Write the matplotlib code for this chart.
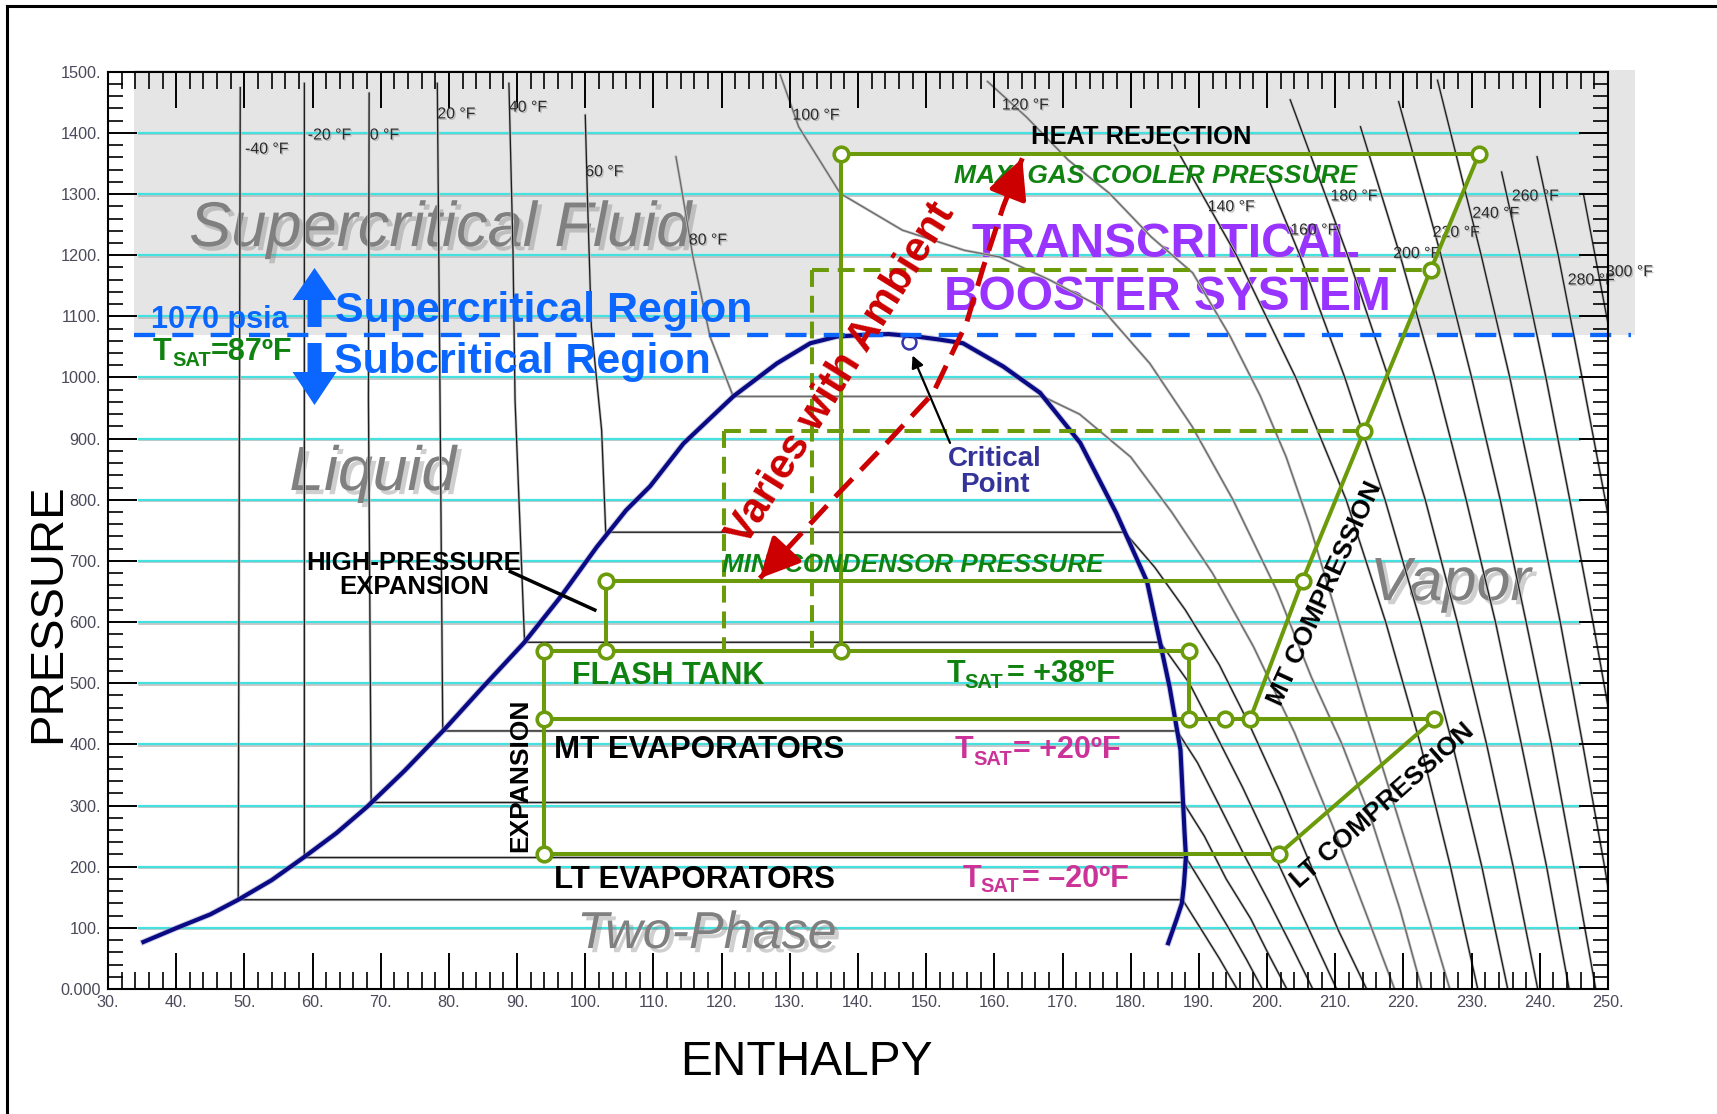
import matplotlib
matplotlib.use('Agg')
import matplotlib.pyplot as plt
import matplotlib.patheffects as pe
from matplotlib import font_manager
from matplotlib.lines import Line2D
from matplotlib.patches import Polygon, Rectangle
from matplotlib.ticker import MultipleLocator

# ---------------- axis data ----------------
x_ticks = list(range(30, 251, 10))
x_tick_labels = [f'{v}.' for v in x_ticks]
y_ticks = list(range(0, 1501, 100))
y_tick_labels = ['0.000'] + [f'{v}.' for v in y_ticks[1:]]
grid_p = list(range(100, 1401, 100))

# ---------------- saturation dome (enthalpy, psia) ----------------
dome_h = [35.2, 40.1, 45.0, 49.1, 54.0, 58.8, 63.5, 68.0, 73.5, 79.3, 85.0, 91.0, 96.5,
          101.7, 106.0, 109.5, 114.4, 121.7, 128.1, 133.0, 136.9, 141.3, 144.5, 148.6,
          152.0, 155.4, 161.3, 166.7, 172.6, 177.9, 182.4, 185.7, 187.3, 187.9, 188.1,
          187.8, 187.5, 186.7, 185.5]
dome_p = [77, 100, 122, 146, 178, 216, 255, 298, 357, 424, 494, 566, 643, 723, 783, 822,
          892, 969, 1023, 1056, 1067, 1070, 1071, 1067, 1062, 1056, 1018, 975, 893, 778,
          666, 494, 391, 255, 216, 170, 140, 113, 75]
crit_h, crit_p = 147.5, 1058
crit_line_p = 1070

# ---------------- isotherms (enthalpy, psia) ----------------
iso_m40 = [(49.4, 1474), (49.1, 146), (187.6, 146), (190.2, 100), (193.0, 50), (195.6, 0)]
iso_m20 = [(58.8, 1481), (58.8, 215), (188.1, 215), (191.4, 155), (194.6, 95), (197.0, 48),
           (199.3, 0)]
iso_0 = [(68.3, 1465), (68.2, 963), (68.6, 305), (187.7, 305), (190.8, 250), (194.0, 180),
         (197.6, 115), (200.3, 55), (202.9, 0)]
iso_20 = [(78.3, 1481), (78.7, 963), (79.1, 422), (186.8, 422), (189.8, 370), (193.0, 300),
          (196.6, 220), (200.4, 140), (203.6, 70), (206.7, 0)]
iso_40 = [(88.8, 1481), (89.4, 1208), (89.7, 963), (91.1, 567), (184.3, 567), (188.6, 500),
          (192.3, 420), (196.4, 330), (200.6, 230), (205.0, 125), (210.2, 0)]
iso_60 = [(100.0, 1429), (100.3, 1301), (100.9, 1083), (102.4, 914), (103.0, 747),
          (179.1, 747), (183.5, 690), (188.0, 620), (193.0, 530), (197.5, 430), (202.0, 320),
          (206.5, 200), (210.5, 95), (214.6, 0)]
iso_80 = [(113.3, 1361), (113.9, 1323), (115.8, 1197), (118.3, 1067), (121.7, 969),
          (167.1, 969), (172.5, 940), (180.0, 870), (186.0, 780), (192.0, 680), (198.0, 560),
          (204.0, 420), (209.5, 270), (214.3, 130), (218.7, 0)]
iso_100 = [(128.6, 1495), (131.3, 1410), (137.4, 1301), (146.5, 1241), (155.6, 1208),
           (160.8, 1197), (168.2, 1159), (175.5, 1116), (182.8, 1023), (189.0, 920),
           (195.0, 800), (201.5, 650), (206.5, 510), (211.0, 400), (215.5, 270),
           (219.5, 130), (222.7, 0)]
iso_120 = [(159.0, 1484), (164.7, 1426), (170.8, 1356), (176.9, 1301), (183.0, 1230),
           (189.1, 1171), (194.6, 1067), (199.0, 970), (202.8, 870), (206.2, 760),
           (210.0, 620), (214.5, 450), (219.5, 270), (223.6, 120), (226.8, 0)]
iso_140 = [(186.4, 1380), (195.5, 1200), (204.2, 1000), (211.6, 800), (217.4, 600),
           (222.5, 400), (226.9, 200), (230.9, 0)]
iso_160 = [(200.0, 1330), (204.8, 1200), (211.4, 1000), (217.3, 800), (222.5, 600),
           (227.2, 400), (231.5, 200), (235.3, 0)]
iso_180 = [(203.4, 1454), (211.8, 1200), (217.8, 1000), (223.2, 800), (227.9, 600),
           (232.2, 400), (236.1, 200), (239.7, 0)]
iso_200 = [(213.7, 1410), (219.5, 1200), (224.6, 1000), (229.2, 800), (233.5, 600),
           (237.3, 400), (241.0, 200), (244.3, 0)]
iso_220 = [(219.3, 1451), (225.5, 1200), (230.0, 1000), (234.2, 800), (238.0, 600),
           (241.7, 400), (245.0, 200), (248.2, 0)]
iso_240 = [(225.0, 1486), (231.4, 1200), (235.6, 1000), (239.4, 800), (243.0, 600),
           (246.3, 400), (249.5, 200), (252.5, 0)]
iso_260 = [(234.4, 1336), (237.1, 1200), (240.9, 1000), (244.4, 800), (247.8, 600),
           (251.0, 400), (254.1, 200), (257.0, 0)]
iso_280 = [(239.6, 1361), (242.7, 1200), (246.2, 1000), (249.6, 800), (252.8, 600),
           (255.8, 400)]
iso_300 = [(246.4, 1300), (248.1, 1200), (251.5, 1000), (254.6, 800)]

iso_names = ['-40 °F', '-20 °F', '0 °F', '20 °F', '40 °F', '60 °F', '80 °F', '100 °F',
             '120 °F', '140 °F', '160 °F', '180 °F', '200 °F', '220 °F', '240 °F', '260 °F',
             '280 °F', '300 °F']

# ---------------- refrigeration cycle ----------------
gc_p = 1366          # max gas cooler pressure
flash_p = 552        # flash tank
mt_p = 441           # MT evaporators
lt_p = 220.5         # LT evaporators
mincond_p = 668      # min condensor pressure
dash_hi_p = 1176
dash_lo_p = 912

mt_comp_h = [197.5, 205.2, 214.2, 224.0, 231.1]
mt_comp_p = [mt_p, mincond_p, dash_lo_p, dash_hi_p, gc_p]
lt_comp_h = [201.7, 224.5]
lt_comp_p = [lt_p, mt_p]

node_h = [137.5, 231.1, 224.0, 214.2, 205.2, 103.0, 94.0, 103.0, 137.5, 188.6,
          94.0, 188.6, 193.8, 197.5, 224.5, 94.0, 201.7]
node_p = [gc_p, gc_p, dash_hi_p, dash_lo_p, mincond_p, mincond_p, flash_p, flash_p, flash_p,
          flash_p, mt_p, mt_p, mt_p, mt_p, mt_p, lt_p, lt_p]

# "varies with ambient" arrow path
amb_h = [125.6, 136.9, 143.7, 151.0, 155.9, 158.4, 161.3, 164.1]
amb_p = [671.6, 807.8, 886.8, 974.1, 1088.6, 1181.2, 1279.3, 1358.5]

# ---------------- fonts ----------------
names = {f.name for f in font_manager.fontManager.ttflist}
HAS_NARROW = 'Liberation Sans Narrow' in names


def narrow(size, weight='normal', fallback=0.82):
    if HAS_NARROW:
        return dict(fontfamily='Liberation Sans Narrow', fontsize=size, fontweight=weight)
    return dict(fontfamily='Liberation Sans', fontsize=size * fallback, fontweight=weight)


def bold(size, style='normal'):
    return dict(fontfamily='Liberation Sans', fontsize=size, fontweight='bold', fontstyle=style)


GREEN = '#6b9b0a'
TXT_GREEN = '#0f820f'
BLUE = '#0a66ff'
PURPLE = '#9933ff'
MAGENTA = '#cc3399'
RED = '#cc0000'
NAVY = '#0a0a85'

fig = plt.figure(figsize=(17.17, 11.14), dpi=100)
ax = fig.add_axes([0.0629, 0.1122, 0.8736, 0.8234])
ax.set_xlim(30, 250)
ax.set_ylim(0, 1500)

# backgrounds
ax.add_patch(Rectangle((33.8, crit_line_p), 254.0 - 33.8, 1503 - crit_line_p,
                       facecolor='#e5e5e5', edgecolor='none', zorder=0.2, clip_on=False))
ax.add_patch(Polygon([(137.5, crit_line_p), (137.5, gc_p), (231.1, gc_p), (224.0, dash_hi_p),
                      (220.2, crit_line_p)], closed=True, facecolor='white',
                     edgecolor='none', zorder=0.3))

# cyan grid lines
for gp in grid_p:
    ax.plot([34.5, 245.9], [gp - 2.5, gp - 2.5], color='#b8b8b8', lw=1.1, zorder=0.5)
    ax.plot([34.5, 245.9], [gp, gp], color='#45e0e0', lw=1.6, zorder=0.55)

# region labels
shadow = [pe.withSimplePatchShadow(offset=(3, -3), shadow_rgbFace='#777777', alpha=0.35)]
reg = dict(fontfamily='Liberation Sans', fontstyle='italic', color='#808080',
           path_effects=shadow, zorder=0.8)
ax.text(41.9, 1215, 'Supercritical Fluid', fontsize=45.5, **reg)
ax.text(56.6, 816, 'Liquid', fontsize=45, **reg)
ax.text(215.1, 636, 'Vapor', fontsize=44, **reg)
ax.text(98.8, 67, 'Two-Phase', fontsize=37.5, **reg)

# isotherms
all_iso = [iso_m40, iso_m20, iso_0, iso_20, iso_40, iso_60, iso_80, iso_100, iso_120,
           iso_140, iso_160, iso_180, iso_200, iso_220, iso_240, iso_260, iso_280, iso_300]
for name, pts in zip(iso_names, all_iso):
    hs = [q[0] for q in pts]
    ps = [q[1] for q in pts]
    inner = '#6a6a6a' if name in ('80 °F', '100 °F', '120 °F') else '#1e1e1e'
    ax.plot(hs, ps, color='#c4c4c4', lw=2.0, zorder=1.4)
    ax.plot(hs, ps, color=inner, lw=0.95, zorder=1.5)

lab_h = [50.1, 59.3, 68.4, 78.3, 88.8, 100.0, 115.2, 130.4, 161.1, 191.3, 203.4, 209.3,
         218.5, 224.3, 230.1, 235.9, 244.1, 249.7]
lab_p = [1373.6, 1396.6, 1396.6, 1431, 1442, 1336.6, 1224.8, 1429, 1445.6, 1279.3, 1241.2,
         1296.8, 1203, 1237.4, 1268.5, 1296.8, 1159.5, 1173]
lab_fx = [pe.withSimplePatchShadow(offset=(1, -1), shadow_rgbFace='#9a9a9a', alpha=0.6)]
for name, lh, lp in zip(iso_names, lab_h, lab_p):
    ax.text(lh, lp, name, ha='left', va='center', color='#2a2a2a', path_effects=lab_fx,
            zorder=1.6, **narrow(13, fallback=0.88))

# saturation dome
ax.plot(dome_h, dome_p, color='#9a9ac8', lw=4.4, zorder=2.1, alpha=0.5)
ax.plot(dome_h, dome_p, color=NAVY, lw=3.0, zorder=2.2)
ax.plot([crit_h], [crit_p], 'o', ms=10, mfc='none', mec='#3333aa', mew=1.8, zorder=2.3)

# critical line 1070 psia
ax.plot([33.8, 253.4], [crit_line_p, crit_line_p], color=BLUE, lw=3.1,
        dashes=(4.9, 4.0), zorder=2.4, clip_on=False)

# blue arrows
ax.add_patch(Polygon([(59.26, 1082.6), (59.26, 1126.7), (57.06, 1126.7), (60.29, 1179.1),
                      (63.52, 1126.7), (61.32, 1126.7), (61.32, 1082.6)],
                     closed=True, facecolor=BLUE, edgecolor='none', zorder=2.5))
ax.add_patch(Polygon([(59.26, 1056.4), (59.26, 1009.0), (57.06, 1009.0), (60.29, 955.0),
                      (63.52, 1009.0), (61.32, 1009.0), (61.32, 1056.4)],
                     closed=True, facecolor=BLUE, edgecolor='none', zorder=2.5))

ax.text(63.3, 1091.2, 'Supercritical Region', color=BLUE, zorder=2.6, **bold(31))
ax.text(63.1, 1007.4, 'Subcritical Region', color=BLUE, zorder=2.6, **bold(31))
ax.text(36.3, 1081, '1070 psia', color=BLUE, zorder=2.6, **bold(22))


def tsat(h_t, p_t, h_s, p_s, h_r, rest, color):
    ax.text(h_t, p_t, 'T', color=color, zorder=4, **bold(22))
    ax.text(h_s, p_s, 'SAT', color=color, zorder=4, **bold(14.5))
    ax.text(h_r, p_t, rest, color=color, zorder=4, **bold(22))


tsat(36.6, 1028.6, 39.4, 1018.8, 45.1, '=87ºF', TXT_GREEN)

# cycle: solid lines
lw_c = 2.9
seg_style = dict(color=GREEN, lw=lw_c, zorder=3, solid_capstyle='round')
ax.plot([137.5, 231.1], [gc_p, gc_p], **seg_style)
ax.plot([137.5, 137.5], [gc_p, flash_p], **seg_style)
ax.plot([94.0, 188.6], [flash_p, flash_p], **seg_style)
ax.plot([94.0, 224.5], [mt_p, mt_p], **seg_style)
ax.plot([94.0, 201.7], [lt_p, lt_p], **seg_style)
ax.plot([94.0, 94.0], [flash_p, lt_p], **seg_style)
ax.plot([188.6, 188.6], [flash_p, mt_p], **seg_style)
ax.plot([103.0, 205.2], [mincond_p, mincond_p], **seg_style)
ax.plot([103.0, 103.0], [mincond_p, flash_p], **seg_style)
ax.plot(mt_comp_h, mt_comp_p, **seg_style)
ax.plot(lt_comp_h, lt_comp_p, **seg_style)

# cycle: dashed lines
dash_style = dict(color=GREEN, lw=lw_c, zorder=3, dashes=(4.2, 2.2))
ax.plot([133.2, 224.0], [dash_hi_p, dash_hi_p], **dash_style)
ax.plot([133.2, 133.2], [dash_hi_p, flash_p], **dash_style)
ax.plot([120.4, 214.2], [dash_lo_p, dash_lo_p], **dash_style)
ax.plot([120.4, 120.4], [dash_lo_p, flash_p], **dash_style)

# state points
ax.plot(node_h, node_p, 'o', ms=10.5, mfc='white', mec=GREEN, mew=2.6, zorder=3.5,
        linestyle='none')

# texts
ax.text(181.5, 1392.5, 'HEAT REJECTION', ha='center', va='center', color='black',
        zorder=4, **bold(18.4))
ax.text(183.6, 1329.5, 'MAX. GAS COOLER PRESSURE', ha='center', va='center',
        color=TXT_GREEN, zorder=4, **bold(19, 'italic'))
ax.text(185.2, 1218.3, 'TRANSCRITICAL', ha='center', va='center', color=PURPLE,
        zorder=1.0, **narrow(42, 'bold'))
ax.text(185.4, 1131.6, 'BOOSTER SYSTEM', ha='center', va='center', color=PURPLE,
        zorder=1.0, **narrow(42, 'bold'))
ax.text(148.1, 693.4, 'MIN. CONDENSOR PRESSURE', ha='center', va='center',
        color=TXT_GREEN, zorder=4, **bold(18.7, 'italic'))
ax.text(112.2, 511.9, 'FLASH TANK', ha='center', va='center', color=TXT_GREEN,
        zorder=4, **bold(22))
ax.text(95.4, 377.3, 'MT EVAPORATORS', color='black', zorder=4, **bold(22.5))
ax.text(95.4, 164.7, 'LT EVAPORATORS', color='black', zorder=4, **bold(22.5))
tsat(153.0, 502.5, 155.6, 492.2, 161.8, '= +38ºF', TXT_GREEN)
tsat(154.2, 377.8, 156.9, 366.3, 162.7, '= +20ºF', MAGENTA)
tsat(155.3, 166.8, 157.9, 158.6, 164.1, '= \u201320ºF', MAGENTA)

ax.text(90.4, 350, 'EXPANSION', rotation=90, ha='center', va='center', color='black',
        rotation_mode='anchor', zorder=4, **bold(19))
ax.text(208.5, 647.6, 'MT COMPRESSION', rotation=65.5, ha='center', va='center',
        rotation_mode='anchor', color='black', zorder=4, **bold(19))
ax.text(216.9, 299.3, 'LT COMPRESSION', rotation=41.5, ha='center', va='center',
        rotation_mode='anchor', color='black', zorder=4, **bold(19))

ax.text(74.9, 677, 'HIGH-PRESSURE\nEXPANSION', ha='center', va='center', color='black',
        linespacing=1.0, zorder=4, **bold(18.5))
ax.plot([89.0, 101.4], [682.6, 619.8], color='black', lw=2.5, zorder=4)

ax.text(160.1, 846, 'Critical\nPoint', ha='center', va='center', color='#333399',
        linespacing=1.0, zorder=4, **bold(20))
ax.annotate('', xy=(148.0, 1036), xytext=(153.5, 893),
            arrowprops=dict(arrowstyle='-|>', color='black', lw=1.6, mutation_scale=18,
                            shrinkA=0, shrinkB=0), zorder=4)

# varies with ambient
ax.text(137.6, 1006, 'Varies with Ambient', rotation=58, ha='center', va='center',
        rotation_mode='anchor', color=RED, zorder=4.5, **bold(30))
ax.plot(amb_h, amb_p, color=RED, lw=3.6, dashes=(5, 2.4), zorder=5)
for tip_i, prev_i, frac in [(0, 1, 0.35), (-1, -2, 0.8)]:
    tip = (amb_h[tip_i], amb_p[tip_i])
    prev = (amb_h[prev_i], amb_p[prev_i])
    tail = (tip[0] + frac * (prev[0] - tip[0]), tip[1] + frac * (prev[1] - tip[1]))
    ax.annotate('', xy=tip, xytext=tail,
                arrowprops=dict(arrowstyle='-|>,head_length=1.1,head_width=0.55', color=RED,
                                lw=3.6, mutation_scale=22, shrinkA=0, shrinkB=0), zorder=5)

# axes styling
for s in ax.spines.values():
    s.set_linewidth(1.5)
    s.set_zorder(6)
ax.set_xticks(x_ticks)
ax.set_xticklabels(x_tick_labels)
ax.set_yticks(y_ticks)
ax.set_yticklabels(y_tick_labels)
ax.xaxis.set_minor_locator(MultipleLocator(2))
ax.yaxis.set_minor_locator(MultipleLocator(20))
ax.tick_params(axis='x', which='major', direction='in', length=26, width=1.4,
               top=True, bottom=True, pad=4)
ax.tick_params(axis='x', which='minor', direction='in', length=12, width=1.2,
               top=True, bottom=True)
ax.tick_params(axis='y', which='major', direction='in', length=21, width=1.4,
               left=True, right=True, pad=5)
ax.tick_params(axis='y', which='minor', direction='in', length=11, width=1.2,
               left=True, right=True)
for lab in ax.get_xticklabels() + ax.get_yticklabels():
    f = narrow(13, fallback=0.9)
    lab.set_fontfamily(f['fontfamily'])
    lab.set_fontsize(f['fontsize'])
    lab.set_color('#4a4a5a')

fig.text(0.028, 0.4497, 'PRESSURE', rotation=90, ha='center', va='center', color='black',
         **narrow(41.5))
fig.text(0.4694, 0.0458, 'ENTHALPY', ha='center', va='center', color='black',
         **narrow(42))

# outer frame (top and left edges)
fig.add_artist(Line2D([6.5 / 1717, 6.5 / 1717], [0, 1 - 6 / 1114], color='black', lw=2.2))
fig.add_artist(Line2D([6.5 / 1717, 1], [1 - 6 / 1114, 1 - 6 / 1114], color='black', lw=2.2))

fig.savefig('out.png', dpi=100)
